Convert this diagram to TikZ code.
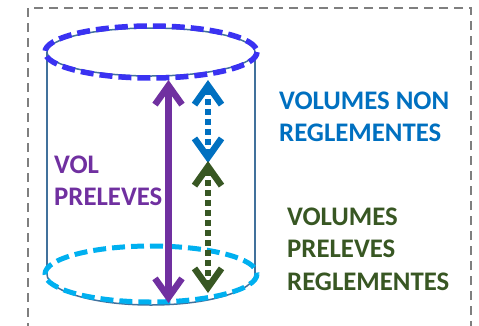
\documentclass[tikz,border=0pt]{standalone}
\usepackage{fontspec}
\setmainfont{Carlito}
\usetikzlibrary{arrows.meta}
\definecolor{cadre}{HTML}{7F7F7F}
\definecolor{bord}{HTML}{41719C}
\definecolor{haut}{HTML}{3A32F2}
\definecolor{bas}{HTML}{00B0F0}
\definecolor{violet}{HTML}{7030A0}
\definecolor{bleu}{HTML}{0070C0}
\definecolor{vert}{HTML}{385723}

\begin{document}
\begin{tikzpicture}[x=1bp,y=-1bp]
	\tikzset{fleche/.style={line width=6.5bp, {Straight Barb[length=19bp,width=27bp]}-{Straight Barb[length=19bp,width=27bp]}},
		pointille/.style={fleche, dash pattern=on 6bp off 4bp},
		etiquette/.style={font=\bfseries\fontsize{26.8bp}{32.5bp}\selectfont, align=left, anchor=west, inner sep=0pt}}
	\useasboundingbox (0,0) rectangle (479,325);
	\clip (0,0) rectangle (479,325);
	\draw [cadre, line width=2bp, dash pattern=on 9bp off 6bp] (28,8) rectangle (471,345);
	\coordinate (haut) at (151,52);
	\coordinate (bas) at (151,274);
	\draw [bord, line width=1.5bp] (47,52) -- (47,274);
	\draw [bord, line width=1.5bp] (255,52) -- (255,274);
	\draw [bord, line width=1.5bp] (haut) ellipse [x radius=104, y radius=24];
	\draw [bord, line width=1.5bp] (255,274) arc [start angle=0, end angle=180, x radius=104, y radius=31];
	\draw [bas, line width=5bp, dash pattern=on 13bp off 6bp] (bas) ellipse [x radius=106, y radius=28];
	\draw [haut, line width=5.5bp, dash pattern=on 13bp off 6bp] (haut) ellipse [x radius=106, y radius=26];
	\coordinate (p1) at (168.5,80);
	\coordinate (p2) at (168.5,303);
	\coordinate (b1) at (208,80);
	\coordinate (m) at (208,162);
	\coordinate (v2) at (208,293);
	\draw [fleche, violet] (p1) -- (p2);
	\draw [pointille, bleu] (b1) -- ([yshift=-1bp]m);
	\draw [pointille, vert] ([yshift=1bp]m) -- (v2);
	\node (nonregl) [etiquette, bleu] at (279,117) {VOLUMES NON\\REGLEMENTES};
	\node (preleves) [etiquette, violet] at (54,181) {VOL\\PRELEVES};
	\node (regl) [etiquette, vert] at (287,249) {VOLUMES\\PRELEVES\\REGLEMENTES};
\end{tikzpicture}
\end{document}
